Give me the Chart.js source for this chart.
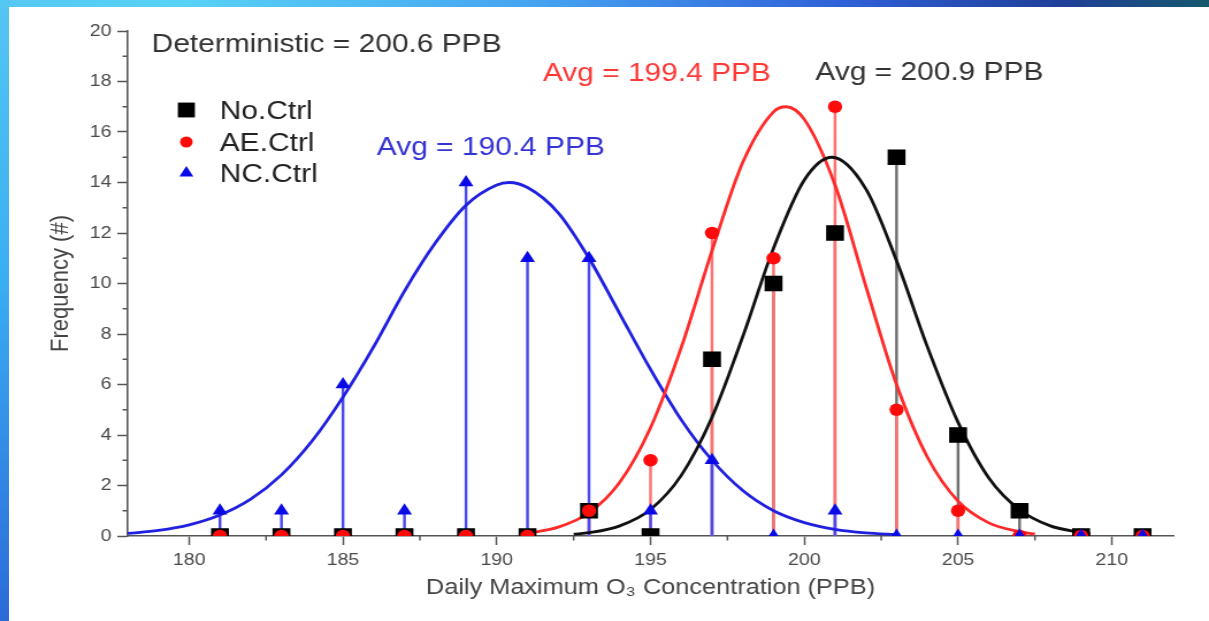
<!DOCTYPE html>
<html>
<head>
<meta charset="utf-8">
<script src="https://cdn.jsdelivr.net/npm/chart.js@4.4.0/dist/chart.umd.min.js"></script>
<style>
  html, body { margin: 0; padding: 0; width: 1209px; height: 621px; overflow: hidden; background: #fff; }
  #edgeL { position: absolute; left: 0; top: 0; width: 9px; height: 621px;
    background: linear-gradient(180deg, #55c6f2 0%, #3aaef4 45%, #2c6ad8 100%); }
  #edgeT { position: absolute; left: 0; top: 0; width: 1209px; height: 7px;
    background: linear-gradient(90deg, #55c8f2 0%, #58d2f6 15%, #45a2f0 45%, #2f5fd8 70%, #1f3f98 88%, #16586e 100%); }
  #chart { position: absolute; left: 0; top: 0; filter: blur(0.5px); }
</style>
</head>
<body>
<div id="edgeL"></div>
<div id="edgeT"></div>
<canvas id="chart" width="1051" height="621" style="width:1209px;height:621px"></canvas>
<script>
// --- tick values ---
const xMajorTicks = [180, 185, 190, 195, 200, 205, 210];
const xMinorTicks = [182.5, 187.5, 192.5, 197.5, 202.5, 207.5];
const yMajorTicks = [0, 2, 4, 6, 8, 10, 12, 14, 16, 18, 20];
const yMinorTicks = [1, 3, 5, 7, 9, 11, 13, 15, 17, 19];

// --- histogram bins (PPB) and frequencies ---
const binCenters = [181, 183, 185, 187, 189, 191, 193, 195, 197, 199, 201, 203, 205, 207, 209, 211];
const noCtrl = [0, 0, 0, 0, 0, 0, 1, 0, 7, 10, 12, 15, 4, 1, 0, 0];
const aeCtrl = [0, 0, 0, 0, 0, 0, 1, 3, 12, 11, 17, 5, 1, 0, 0, 0];
const ncCtrl = [1, 1, 6, 1, 14, 11, 11, 1, 3, 0, 1, 0, 0, 0, 0, 0];

// --- fitted curves ---
const ncFitX = [178, 179, 180, 181, 182, 183, 184, 185, 186, 187, 188, 189, 190, 190.4, 191, 192, 193, 194, 195, 196, 197, 198, 199, 200, 201, 202, 203];
const ncFitY = [0.10, 0.22, 0.44, 0.83, 1.46, 2.42, 3.77, 5.5, 7.5, 9.7, 11.6, 13.1, 13.9, 14.0, 13.8, 12.8, 11.0, 8.8, 6.6, 4.6, 3.0, 1.8, 1.0, 0.53, 0.26, 0.12, 0.05];
const aeFitX = [191, 192, 193, 194, 195, 196, 197, 198, 199, 199.4, 200, 201, 202, 203, 204, 205, 206, 207, 207.5];
const aeFitY = [0.11, 0.35, 0.92, 2.13, 4.29, 7.47, 11.3, 14.8, 16.8, 17.0, 16.5, 13.9, 9.9, 6.0, 3.13, 1.38, 0.52, 0.17, 0.08];
const noFitX = [192.5, 193, 194, 195, 196, 197, 198, 199, 200, 200.9, 202, 203, 204, 205, 206, 207, 208, 209, 209.3];
const noFitY = [0.07, 0.13, 0.40, 1.05, 2.4, 4.7, 7.9, 11.4, 14.1, 15.0, 13.75, 10.9, 7.5, 4.5, 2.3, 1.04, 0.40, 0.14, 0.08];

// --- text notes ---
const noteTexts = ['Deterministic = 200.6 PPB', 'Avg = 199.4 PPB', 'Avg = 200.9 PPB', 'Avg = 190.4 PPB'];
const noteX = [178.78, 191.5, 200.36, 186.1];
const noteY = [19.17, 18.02, 18.06, 15.09];
const noteColors = ['#333333', '#ff3838', '#333333', '#3434d4'];

const seriesNames = ['No.Ctrl', 'AE.Ctrl', 'NC.Ctrl'];

const FONT = '"Liberation Sans", Arial, sans-serif';
Chart.defaults.font.family = FONT;

const pts = (xs, ys) => xs.map((x, i) => ({x: x, y: ys[i]}));

function marker(ctx, style, x, y, r, color) {
  ctx.fillStyle = color;
  ctx.beginPath();
  if (style === 'rect') {
    const h = r * Math.SQRT1_2;
    ctx.rect(x - h, y - h, 2 * h, 2 * h);
  } else if (style === 'circle') {
    ctx.arc(x, y, r, 0, Math.PI * 2);
  } else {
    ctx.moveTo(x, y - r);
    ctx.lineTo(x + r * 0.866, y + r * 0.5);
    ctx.lineTo(x - r * 0.866, y + r * 0.5);
    ctx.closePath();
  }
  ctx.fill();
}

const extras = {
  id: 'extras',
  afterDraw(chart) {
    const {ctx, scales: {x, y}} = chart;
    ctx.save();
    // minor ticks
    ctx.strokeStyle = '#555';
    ctx.lineWidth = 1.5;
    xMinorTicks.forEach(v => {
      const px = x.getPixelForValue(v);
      ctx.beginPath(); ctx.moveTo(px, y.bottom); ctx.lineTo(px, y.bottom + 4.5); ctx.stroke();
    });
    yMinorTicks.forEach(v => {
      const py = y.getPixelForValue(v);
      ctx.beginPath(); ctx.moveTo(x.left, py); ctx.lineTo(x.left - 4.5, py); ctx.stroke();
    });
    // notes
    ctx.font = '26px ' + FONT;
    ctx.textBaseline = 'alphabetic';
    ctx.textAlign = 'left';
    noteTexts.forEach((t, i) => {
      ctx.fillStyle = noteColors[i];
      ctx.fillText(t, x.getPixelForValue(noteX[i]), y.getPixelForValue(noteY[i]));
    });
    // legend
    const styles = ['rect', 'circle', 'triangle'];
    const colors = ['#000000', '#ff0a0a', '#0a0ae6'];
    const radii = [10.5, 5.5, 7];
    const mx = chart.chartArea.left + 51;
    const tx = chart.chartArea.left + 80;
    const rowY = [79, 111, 142];
    seriesNames.forEach((name, i) => {
      marker(ctx, styles[i], mx, chart.chartArea.top + rowY[i], radii[i], colors[i]);
      ctx.fillStyle = '#222';
      ctx.fillText(name, tx, chart.chartArea.top + rowY[i] + 8.5);
    });
    ctx.restore();
  }
};

// stems: blue over red over grey
const stem = (data, color, order) => ({
  type: 'bar', data: data, backgroundColor: color, barThickness: 1.8,
  grouped: false, order: order
});
const curve = (data, color) => ({
  type: 'scatter', showLine: true, data: data, borderColor: color, borderWidth: 2.8,
  pointRadius: 0, cubicInterpolationMode: 'monotone', fill: false, order: 3
});

new Chart(document.getElementById('chart'), {
  type: 'scatter',
  data: {
    datasets: [
      stem(pts(binCenters, ncCtrl), '#4a4aee', 4),
      stem(pts(binCenters, aeCtrl), '#ff7272', 5),
      stem(pts(binCenters, noCtrl), '#707070', 6),
      curve(pts(noFitX, noFitY), '#111111'),
      curve(pts(aeFitX, aeFitY), '#ff2a2a'),
      curve(pts(ncFitX, ncFitY), '#2020e0'),
      {type: 'scatter', label: seriesNames[0], data: pts(binCenters, noCtrl), pointStyle: 'rect',
       pointRadius: 11, backgroundColor: '#000', borderWidth: 0, order: 2},
      {type: 'scatter', label: seriesNames[1], data: pts(binCenters, aeCtrl), pointStyle: 'circle',
       pointRadius: 6.2, backgroundColor: '#ff0a0a', borderWidth: 0, order: 1},
      {type: 'scatter', label: seriesNames[2], data: pts(binCenters, ncCtrl), pointStyle: 'triangle',
       pointRadius: 7.5, backgroundColor: '#0a0ae6', borderWidth: 0, order: 0}
    ]
  },
  options: {
    responsive: false,
    animation: false,
    devicePixelRatio: 1,
    layout: {padding: {left: 0, top: 31, right: 31, bottom: 0}},
    plugins: {legend: {display: false}, tooltip: {enabled: false}},
    scales: {
      x: {
        type: 'linear', min: 178, max: 212, offset: false,
        afterBuildTicks: s => { s.ticks = xMajorTicks.map(v => ({value: v})); },
        afterFit: s => { s.height = 85; },
        grid: {drawOnChartArea: false, drawTicks: true, tickLength: 9, tickColor: '#555', tickWidth: 1.5, offset: false},
        border: {display: true, color: '#555', width: 1.6},
        ticks: {font: {size: 17}, color: '#4a4a4a', padding: 5, maxRotation: 0, autoSkip: false},
        title: {display: true, text: 'Daily Maximum O\u2083 Concentration (PPB)', font: {size: 22}, color: '#444',
                padding: {top: 0, bottom: 20}}
      },
      y: {
        type: 'linear', min: 0, max: 20,
        afterBuildTicks: s => { s.ticks = yMajorTicks.map(v => ({value: v})); },
        afterFit: s => { s.width = 111; },
        grid: {drawOnChartArea: false, drawTicks: true, tickLength: 9, tickColor: '#555', tickWidth: 1.5},
        border: {display: true, color: '#555', width: 1.6},
        ticks: {font: {size: 17}, color: '#4a4a4a', padding: 5},
        title: {display: true, text: 'Frequency (#)', font: {size: 22}, color: '#444',
                padding: {top: 40, bottom: 0}}
      }
    }
  },
  plugins: [extras]
});
</script>
</body>
</html>
